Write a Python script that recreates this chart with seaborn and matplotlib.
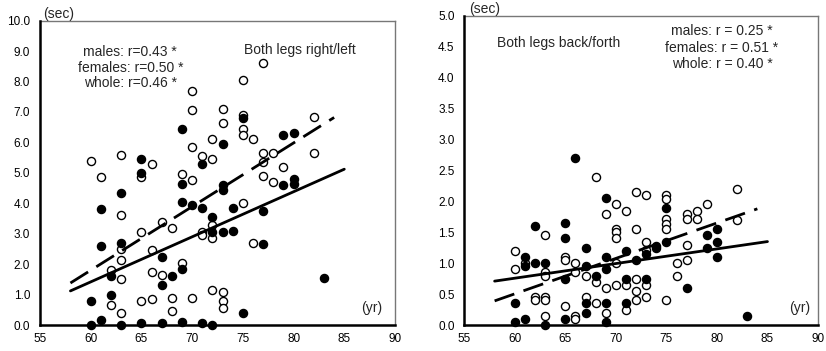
import matplotlib
matplotlib.use("Agg")
import matplotlib.pyplot as plt
import seaborn as sns
import pandas as pd

# ---------------- data: left panel (Both legs right/left) ----------------
rl_filled_age = [60, 60, 61, 61, 61, 62, 62, 63, 63, 63, 65, 65, 65, 67, 67, 67, 68,
                 69, 69, 69, 69, 69, 70, 71, 71, 71, 72, 72, 72, 73, 73, 73, 73, 74, 74,
                 75, 75, 77, 77, 79, 79, 80, 80, 80, 83]
rl_filled_val = [0.8, 0.0, 3.8, 2.6, 0.15, 1.6, 1.0, 4.35, 2.7, 0.0, 5.45, 5.0, 0.05,
                 2.25, 1.3, 0.05, 1.6, 6.45, 4.65, 4.05, 1.85, 0.1, 3.95, 5.3, 3.85, 0.05,
                 3.55, 3.05, 0.0, 5.95, 4.6, 4.45, 3.05, 3.85, 3.1, 6.8, 0.4, 3.75, 2.65,
                 6.25, 4.6, 6.3, 4.8, 4.65, 1.55]
rl_open_age = [60, 61, 62, 62, 63, 63, 63, 63, 63, 63, 65, 65, 65, 66, 66, 66, 66, 67, 67,
               68, 68, 68, 69, 69, 70, 70, 70, 70, 70, 71, 71, 71, 72, 72, 72, 72, 72,
               73, 73, 73, 73, 73, 75, 75, 75, 75, 75, 76, 76, 77, 77, 77, 77, 78, 78,
               79, 82, 82]
rl_open_val = [5.4, 4.85, 1.8, 0.65, 5.6, 3.6, 2.5, 2.15, 1.5, 0.4, 4.85, 3.05, 0.8, 5.3,
               2.45, 1.75, 0.85, 3.4, 1.65, 3.2, 0.9, 0.45, 4.95, 2.05, 7.7, 7.05, 5.85,
               4.75, 0.9, 5.55, 3.05, 2.95, 6.1, 5.45, 3.3, 2.85, 1.15, 7.1, 6.65, 1.1,
               0.8, 0.55, 8.05, 6.9, 6.45, 6.25, 4.0, 6.1, 2.7, 8.6, 5.65, 5.35, 4.9,
               5.65, 4.7, 5.2, 6.85, 5.65]
rl_solid_age = [58, 85]
rl_solid_val = [1.12, 5.12]
rl_dash_age = [58, 84]
rl_dash_val = [1.38, 6.82]
rl_stats = ["males: r=0.43 *", "females: r=0.50 *", "whole: r=0.46 *"]
rl_title = "Both legs right/left"

# ---------------- data: right panel (Both legs back/forth) ----------------
bf_filled_age = [60, 60, 61, 61, 61, 62, 62, 63, 63, 65, 65, 65, 65, 66, 67, 67, 67, 67,
                 68, 69, 69, 69, 69, 69, 71, 71, 71, 72, 73, 73, 74, 74, 75, 75, 77, 79,
                 79, 80, 80, 80, 83]
bf_filled_val = [0.35, 0.05, 0.1, 1.1, 0.95, 1.6, 1.0, 1.0, 0.0, 1.65, 1.4, 0.75, 0.1,
                 2.7, 1.25, 0.95, 0.35, 0.2, 0.8, 2.05, 1.1, 0.9, 0.35, 0.05, 1.2, 0.75,
                 0.35, 1.05, 1.15, 0.75, 1.28, 1.24, 1.9, 1.35, 0.6, 1.45, 1.25, 1.55,
                 1.35, 1.1, 0.15]
bf_open_age = [60, 60, 61, 62, 62, 63, 63, 63, 63, 63, 63, 65, 65, 65, 66, 66, 66, 66,
               67, 67, 68, 68, 68, 69, 69, 69, 70, 70, 70, 70, 70, 70, 71, 71, 71, 72,
               72, 72, 72, 72, 73, 73, 73, 73, 73, 75, 75, 75, 75, 75, 75, 76, 76, 77,
               77, 77, 77, 78, 78, 79, 82, 82]
bf_open_val = [1.2, 0.9, 1.0, 0.45, 0.4, 1.45, 0.85, 0.8, 0.45, 0.4, 0.15, 1.1, 1.05,
               0.3, 1.0, 0.85, 0.15, 0.1, 0.8, 0.45, 2.4, 0.7, 0.35, 1.8, 0.6, 0.2,
               1.95, 1.55, 1.5, 1.4, 1.0, 0.65, 1.85, 0.65, 0.25, 2.15, 1.55, 0.75,
               0.55, 0.4, 2.1, 1.35, 1.22, 0.65, 0.45, 2.1, 2.04, 1.72, 1.64, 1.55, 0.4,
               1.0, 0.8, 1.8, 1.72, 1.3, 1.05, 1.85, 1.72, 1.95, 2.2, 1.7]
bf_solid_age = [58, 85]
bf_solid_val = [0.71, 1.35]
bf_dash_age = [58, 84]
bf_dash_val = [0.39, 1.88]
bf_stats = ["males: r = 0.25 *", "females: r = 0.51 *", "whole: r = 0.40 *"]
bf_title = "Both legs back/forth"

x_ticks = [55, 60, 65, 70, 75, 80, 85, 90]
rl_yticks = [0, 1, 2, 3, 4, 5, 6, 7, 8, 9, 10]
bf_yticks = [0.0, 0.5, 1.0, 1.5, 2.0, 2.5, 3.0, 3.5, 4.0, 4.5, 5.0]

# ---------------- style ----------------
sns.set_style("white")
plt.rcParams["font.family"] = ["Liberation Sans", "DejaVu Sans"]
plt.rcParams["font.size"] = 10

fig = plt.figure(figsize=(8.26, 3.51), dpi=100)
ax1 = fig.add_axes([40 / 826, 26 / 351, 355 / 826, 304.3 / 351])
ax2 = fig.add_axes([464.3 / 826, 26 / 351, 353.7 / 826, 309 / 351])

MS = 34


def draw_panel(ax, fa, fv, oa, ov, sa, sv, da, dv, ymax, yticks, ylabels):
    df_f = pd.DataFrame({"age": fa, "val": fv})
    df_o = pd.DataFrame({"age": oa, "val": ov})
    sns.scatterplot(data=df_o, x="age", y="val", ax=ax, s=MS, facecolor="white",
                    edgecolor="black", linewidth=1.0, zorder=3, clip_on=False)
    sns.scatterplot(data=df_f, x="age", y="val", ax=ax, s=MS, color="black",
                    edgecolor="black", linewidth=1.0, zorder=3, clip_on=False)
    sns.lineplot(x=sa, y=sv, ax=ax, color="black", lw=2.0, zorder=4)
    sns.lineplot(x=da, y=dv, ax=ax, color="black", lw=2.0, zorder=4,
                 linestyle=(0, (7.5, 3.5)))
    ax.set_xlim(55, 90)
    ax.set_ylim(0, ymax)
    ax.set_xticks(x_ticks)
    ax.set_xticklabels([str(t) for t in x_ticks])
    ax.set_yticks(yticks)
    ax.set_yticklabels(ylabels)
    ax.set_xlabel("")
    ax.set_ylabel("")
    ax.tick_params(axis="x", direction="in", length=3.5, width=1.0, pad=6,
                   labelsize=8.5, colors="black")
    ax.tick_params(axis="y", direction="out", length=2, width=1.0, pad=5,
                   labelsize=8.5, colors="black")
    for side in ["left", "bottom"]:
        ax.spines[side].set_color("black")
        ax.spines[side].set_linewidth(1.8)
        ax.spines[side].set_zorder(5)
    for side in ["top", "right"]:
        ax.spines[side].set_color("#777777")
        ax.spines[side].set_linewidth(1.0)
    ax.grid(False)


draw_panel(ax1, rl_filled_age, rl_filled_val, rl_open_age, rl_open_val,
           rl_solid_age, rl_solid_val, rl_dash_age, rl_dash_val,
           10, rl_yticks, [f"{t:.1f}" for t in rl_yticks])
draw_panel(ax2, bf_filled_age, bf_filled_val, bf_open_age, bf_open_val,
           bf_solid_age, bf_solid_val, bf_dash_age, bf_dash_val,
           5, bf_yticks, [f"{t:.1f}" for t in bf_yticks])

# Left panel text
ax1.text(63.9, 8.97, rl_stats[0], ha="center", va="center", fontsize=10)
ax1.text(63.9, 8.45, rl_stats[1], ha="center", va="center", fontsize=10)
ax1.text(63.9, 7.95, rl_stats[2], ha="center", va="center", fontsize=10)
ax1.text(80.6, 9.03, rl_title, ha="center", va="center", fontsize=10)
ax1.text(87.7, 0.57, "(yr)", ha="center", va="center", fontsize=10)
ax1.text(55.3, 10.0, "(sec)", ha="left", va="bottom", fontsize=10)

# Right panel text
ax2.text(58.2, 4.57, bf_title, ha="left", va="center", fontsize=10)
ax2.text(80.5, 4.75, bf_stats[0], ha="center", va="center", fontsize=10)
ax2.text(80.5, 4.49, bf_stats[1], ha="center", va="center", fontsize=10)
ax2.text(80.5, 4.23, bf_stats[2], ha="center", va="center", fontsize=10)
ax2.text(88.2, 0.27, "(yr)", ha="center", va="center", fontsize=10)
ax2.text(55.5, 5.0, "(sec)", ha="left", va="bottom", fontsize=10)

fig.savefig("out.png", dpi=100)
